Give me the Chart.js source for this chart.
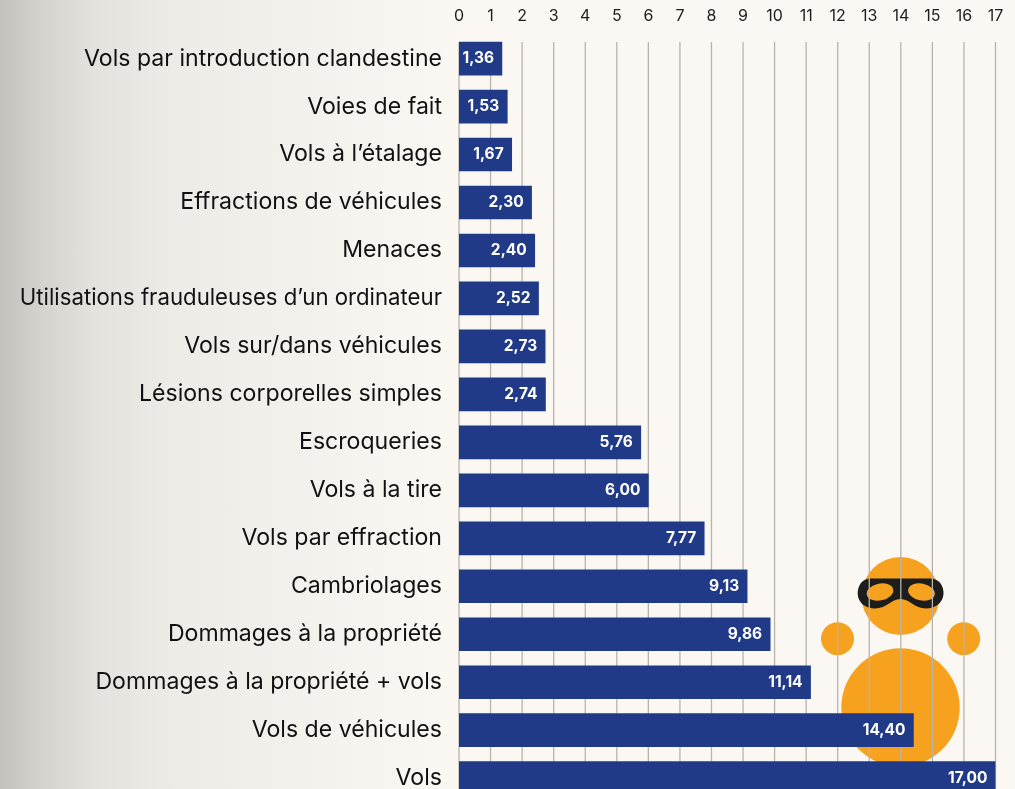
<!DOCTYPE html>
<html lang="fr">
<head>
  <meta charset="UTF-8" />
  <title>Infractions</title>
  <script src="https://cdn.jsdelivr.net/npm/chart.js"></script>
  <style>
    html, body { margin: 0; height: 789px; overflow: hidden; }
    body { background: linear-gradient(90deg, #c4c2bd 0, #d4d2cd 40px, #e4e1dc 90px, #eeebe6 170px, #f4f1ec 300px, #fbf8f4 459px); }
    canvas { display: block; }
  </style>
</head>
<body>
  <canvas id="chart" width="1015" height="833"></canvas>

  <script>
    const categories = [
      'Vols par introduction clandestine', 'Voies de fait', 'Vols à l’étalage',
      'Effractions de véhicules', 'Menaces', 'Utilisations frauduleuses d’un ordinateur',
      'Vols sur/dans véhicules', 'Lésions corporelles simples', 'Escroqueries',
      'Vols à la tire', 'Vols par effraction', 'Cambriolages',
      'Dommages à la propriété', 'Dommages à la propriété + vols',
      'Vols de véhicules', 'Vols'
    ];
    const values = [1.36, 1.53, 1.67, 2.30, 2.40, 2.52, 2.73, 2.74, 5.76, 6.00, 7.77, 9.13, 9.86, 11.14, 14.40, 17.00];
    const tickValues = [0, 1, 2, 3, 4, 5, 6, 7, 8, 9, 10, 11, 12, 13, 14, 15, 16, 17];

    const FONT = 'Inter, "Liberation Sans", sans-serif';
    const ORANGE = '#f7a21e';

    // robber + grid go under the bars
    const backdrop = {
      id: 'backdrop',
      beforeDatasetsDraw(chart) {
        const ctx = chart.ctx;
        const x = chart.scales.x;
        ctx.save();

        ctx.fillStyle = ORANGE;
        [[900.5, 596, 39], [837.5, 638.7, 16.5], [963.7, 638.7, 16.5], [900.5, 707.5, 59.2]].forEach(c => {
          ctx.beginPath();
          ctx.arc(c[0], c[1], c[2], 0, Math.PI * 2);
          ctx.fill();
        });

        // mask
        ctx.fillStyle = '#1d1d1b';
        ctx.beginPath();
        ctx.moveTo(870, 578.5);
        ctx.lineTo(931, 578.5);
        ctx.bezierCurveTo(940, 579, 944, 587, 943.5, 594);
        ctx.bezierCurveTo(943, 603, 935, 608.5, 926, 608.5);
        ctx.bezierCurveTo(914, 608.5, 910, 599, 900.5, 599);
        ctx.bezierCurveTo(891, 599, 887, 608.5, 875, 608.5);
        ctx.bezierCurveTo(866, 608.5, 858, 603, 857.7, 594);
        ctx.bezierCurveTo(857.5, 587, 861, 579, 870, 578.5);
        ctx.fill();
        ctx.fillStyle = ORANGE;
        ctx.beginPath();
        ctx.ellipse(880, 592, 13.5, 8.5, -0.2, 0, Math.PI * 2);
        ctx.fill();
        ctx.beginPath();
        ctx.ellipse(921.5, 592, 13.5, 8.5, 0.2, 0, Math.PI * 2);
        ctx.fill();

        // grid lines start at the top of the first bar
        ctx.strokeStyle = '#b7b3ad';
        ctx.lineWidth = 1.3;
        tickValues.forEach(v => {
          const px = x.getPixelForValue(v);
          ctx.beginPath();
          ctx.moveTo(px, 42);
          ctx.lineTo(px, chart.chartArea.bottom);
          ctx.stroke();
        });
        ctx.restore();
      }
    };

    const valueLabels = {
      id: 'valueLabels',
      afterDatasetsDraw(chart) {
        const ctx = chart.ctx;
        const base = chart.scales.x.getPixelForValue(0);
        ctx.save();
        ctx.font = 'bold 15.5px ' + FONT;
        ctx.fillStyle = '#ffffff';
        ctx.textAlign = 'right';
        ctx.textBaseline = 'middle';
        chart.getDatasetMeta(0).data.forEach((bar, i) => {
          const text = values[i].toFixed(2).replace('.', ',');
          const w = ctx.measureText(text).width;
          const right = Math.max(bar.x - 8, base + 3.5 + w);
          ctx.fillText(text, right, bar.y);
        });
        ctx.restore();
      }
    };

    new Chart(document.getElementById('chart'), {
      type: 'bar',
      data: {
        labels: categories,
        datasets: [{
          data: values,
          backgroundColor: '#203a87',
          borderWidth: 0,
          barThickness: 33
        }]
      },
      plugins: [backdrop, valueLabels],
      options: {
        indexAxis: 'y',
        responsive: false,
        animation: false,
        layout: { autoPadding: false, padding: { right: 19.5 } },
        plugins: { legend: { display: false }, tooltip: { enabled: false } },
        scales: {
          x: {
            position: 'top',
            min: 0,
            max: 17,
            afterFit: s => { s.height = 34.6; },
            afterBuildTicks: s => { s.ticks = tickValues.map(v => ({ value: v })); },
            grid: { display: false, drawTicks: false },
            border: { display: false },
            ticks: {
              color: '#1d1d1b',
              font: { family: FONT, size: 16 },
              padding: 9,
              maxRotation: 0,
              autoSkip: false
            }
          },
          y: {
            afterFit: s => { s.width = 459; },
            grid: { display: false, drawTicks: false },
            border: { display: false },
            ticks: {
              color: '#111111',
              // the long label sits tighter in the reference
              font: c => ({ family: FONT, size: c.index === 5 ? 22.2 : 23.1 }),
              padding: 17,
              autoSkip: false
            }
          }
        }
      }
    });
  </script>
</body>
</html>
